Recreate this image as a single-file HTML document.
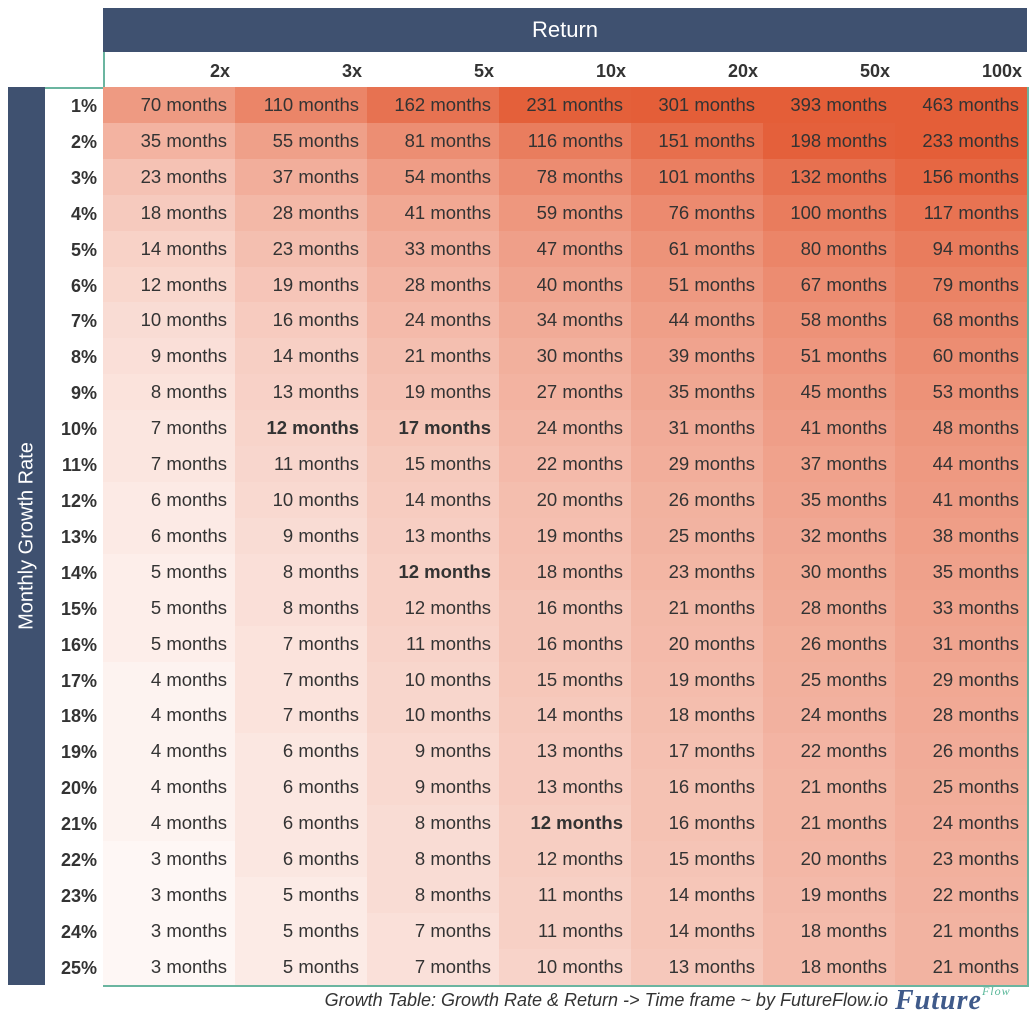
<!DOCTYPE html>
<html><head><meta charset="utf-8"><style>
body{margin:0;width:1032px;height:1024px;background:#fff;position:relative;font-family:"Liberation Sans",sans-serif;color:#333;overflow:hidden}
#hdr{position:absolute;left:103px;top:8px;width:924px;height:44px;background:#3f5170;color:#fff;font-size:22px;text-align:center;line-height:44px}
#side{position:absolute;left:8px;top:87px;width:37px;height:898px;background:#3f5170}
#side span{position:absolute;left:50%;top:50%;transform:translate(-50%,-50%) rotate(-90deg);white-space:nowrap;color:#fff;font-size:20px}
#colh{position:absolute;left:103px;top:52px;width:924px;height:35px;border-left:2px solid #6bb5a0;box-sizing:border-box}
#colh div{position:absolute;top:0;width:132px;height:35px;line-height:38px;text-align:right;font-weight:bold;font-size:18px;box-sizing:border-box;padding-right:7px}
#rowh{position:absolute;left:45px;top:87px;width:58px;height:898px;border-top:2px solid #6bb5a0;box-sizing:border-box}
#rowh div{height:35.92px;line-height:35.92px;text-align:right;padding-right:6px;font-weight:bold;font-size:18px}
#grid{position:absolute;left:103px;top:87px;width:926px;height:900px;border:2px solid #6bb5a0;border-top:none;border-left:none;box-sizing:border-box}
#grid .r{display:flex;height:35.92px}
#grid .c{width:132px;line-height:35.92px;text-align:right;padding-right:8px;box-sizing:border-box;font-size:18.5px;white-space:nowrap}
#grid .c b{font-weight:bold}
#foot{position:absolute;right:144px;top:990px;font-style:italic;font-size:18px;color:#333}
#logo{position:absolute;left:895px;top:984px;font-family:"Liberation Serif",serif;font-style:italic;font-weight:bold;font-size:28px;color:#3f5a8a;letter-spacing:1px}
#logo sup{font-size:12px;color:#5bb89a;font-weight:normal;vertical-align:14px}
</style></head><body>
<div id="hdr">Return</div>
<div id="side"><span>Monthly Growth Rate</span></div>
<div id="colh">
<div style="left:0">2x</div><div style="left:132px">3x</div><div style="left:264px">5x</div><div style="left:396px">10x</div><div style="left:528px">20x</div><div style="left:660px">50x</div><div style="left:792px">100x</div>
</div>
<div id="rowh">
<div>1%</div><div>2%</div><div>3%</div><div>4%</div><div>5%</div><div>6%</div><div>7%</div><div>8%</div><div>9%</div><div>10%</div><div>11%</div><div>12%</div><div>13%</div><div>14%</div><div>15%</div><div>16%</div><div>17%</div><div>18%</div><div>19%</div><div>20%</div><div>21%</div><div>22%</div><div>23%</div><div>24%</div><div>25%</div>
</div>
<div id="grid">
<div class="r"><div class="c">70 months</div><div class="c">110 months</div><div class="c">162 months</div><div class="c">231 months</div><div class="c">301 months</div><div class="c">393 months</div><div class="c">463 months</div></div>
<div class="r"><div class="c">35 months</div><div class="c">55 months</div><div class="c">81 months</div><div class="c">116 months</div><div class="c">151 months</div><div class="c">198 months</div><div class="c">233 months</div></div>
<div class="r"><div class="c">23 months</div><div class="c">37 months</div><div class="c">54 months</div><div class="c">78 months</div><div class="c">101 months</div><div class="c">132 months</div><div class="c">156 months</div></div>
<div class="r"><div class="c">18 months</div><div class="c">28 months</div><div class="c">41 months</div><div class="c">59 months</div><div class="c">76 months</div><div class="c">100 months</div><div class="c">117 months</div></div>
<div class="r"><div class="c">14 months</div><div class="c">23 months</div><div class="c">33 months</div><div class="c">47 months</div><div class="c">61 months</div><div class="c">80 months</div><div class="c">94 months</div></div>
<div class="r"><div class="c">12 months</div><div class="c">19 months</div><div class="c">28 months</div><div class="c">40 months</div><div class="c">51 months</div><div class="c">67 months</div><div class="c">79 months</div></div>
<div class="r"><div class="c">10 months</div><div class="c">16 months</div><div class="c">24 months</div><div class="c">34 months</div><div class="c">44 months</div><div class="c">58 months</div><div class="c">68 months</div></div>
<div class="r"><div class="c">9 months</div><div class="c">14 months</div><div class="c">21 months</div><div class="c">30 months</div><div class="c">39 months</div><div class="c">51 months</div><div class="c">60 months</div></div>
<div class="r"><div class="c">8 months</div><div class="c">13 months</div><div class="c">19 months</div><div class="c">27 months</div><div class="c">35 months</div><div class="c">45 months</div><div class="c">53 months</div></div>
<div class="r"><div class="c">7 months</div><div class="c"><b>12 months</b></div><div class="c"><b>17 months</b></div><div class="c">24 months</div><div class="c">31 months</div><div class="c">41 months</div><div class="c">48 months</div></div>
<div class="r"><div class="c">7 months</div><div class="c">11 months</div><div class="c">15 months</div><div class="c">22 months</div><div class="c">29 months</div><div class="c">37 months</div><div class="c">44 months</div></div>
<div class="r"><div class="c">6 months</div><div class="c">10 months</div><div class="c">14 months</div><div class="c">20 months</div><div class="c">26 months</div><div class="c">35 months</div><div class="c">41 months</div></div>
<div class="r"><div class="c">6 months</div><div class="c">9 months</div><div class="c">13 months</div><div class="c">19 months</div><div class="c">25 months</div><div class="c">32 months</div><div class="c">38 months</div></div>
<div class="r"><div class="c">5 months</div><div class="c">8 months</div><div class="c"><b>12 months</b></div><div class="c">18 months</div><div class="c">23 months</div><div class="c">30 months</div><div class="c">35 months</div></div>
<div class="r"><div class="c">5 months</div><div class="c">8 months</div><div class="c">12 months</div><div class="c">16 months</div><div class="c">21 months</div><div class="c">28 months</div><div class="c">33 months</div></div>
<div class="r"><div class="c">5 months</div><div class="c">7 months</div><div class="c">11 months</div><div class="c">16 months</div><div class="c">20 months</div><div class="c">26 months</div><div class="c">31 months</div></div>
<div class="r"><div class="c">4 months</div><div class="c">7 months</div><div class="c">10 months</div><div class="c">15 months</div><div class="c">19 months</div><div class="c">25 months</div><div class="c">29 months</div></div>
<div class="r"><div class="c">4 months</div><div class="c">7 months</div><div class="c">10 months</div><div class="c">14 months</div><div class="c">18 months</div><div class="c">24 months</div><div class="c">28 months</div></div>
<div class="r"><div class="c">4 months</div><div class="c">6 months</div><div class="c">9 months</div><div class="c">13 months</div><div class="c">17 months</div><div class="c">22 months</div><div class="c">26 months</div></div>
<div class="r"><div class="c">4 months</div><div class="c">6 months</div><div class="c">9 months</div><div class="c">13 months</div><div class="c">16 months</div><div class="c">21 months</div><div class="c">25 months</div></div>
<div class="r"><div class="c">4 months</div><div class="c">6 months</div><div class="c">8 months</div><div class="c"><b>12 months</b></div><div class="c">16 months</div><div class="c">21 months</div><div class="c">24 months</div></div>
<div class="r"><div class="c">3 months</div><div class="c">6 months</div><div class="c">8 months</div><div class="c">12 months</div><div class="c">15 months</div><div class="c">20 months</div><div class="c">23 months</div></div>
<div class="r"><div class="c">3 months</div><div class="c">5 months</div><div class="c">8 months</div><div class="c">11 months</div><div class="c">14 months</div><div class="c">19 months</div><div class="c">22 months</div></div>
<div class="r"><div class="c">3 months</div><div class="c">5 months</div><div class="c">7 months</div><div class="c">11 months</div><div class="c">14 months</div><div class="c">18 months</div><div class="c">21 months</div></div>
<div class="r"><div class="c">3 months</div><div class="c">5 months</div><div class="c">7 months</div><div class="c">10 months</div><div class="c">13 months</div><div class="c">18 months</div><div class="c">21 months</div></div>
</div>
<div id="foot">Growth Table: Growth Rate &amp; Return -&gt; Time frame ~ by FutureFlow.io</div>
<div id="logo">Future<sup>Flow</sup></div>
<script>
var a=[254,247,245],b=[228,94,56];
document.querySelectorAll('#grid .r').forEach(function(r){
r.querySelectorAll('.c').forEach(function(c,ci){
var v=parseInt(c.textContent);var t=(Math.log(v)-Math.log(3))/(Math.log(300)-Math.log(3));
t=Math.max(0,Math.min(1,t));t=Math.pow(t,1.3)+ci*0.02;t=Math.min(1,t);
var col=a.map(function(x,i){return Math.round(x+(b[i]-x)*t)});
c.style.background='rgb('+col.join(',')+')';});});
</script>
</body></html>
